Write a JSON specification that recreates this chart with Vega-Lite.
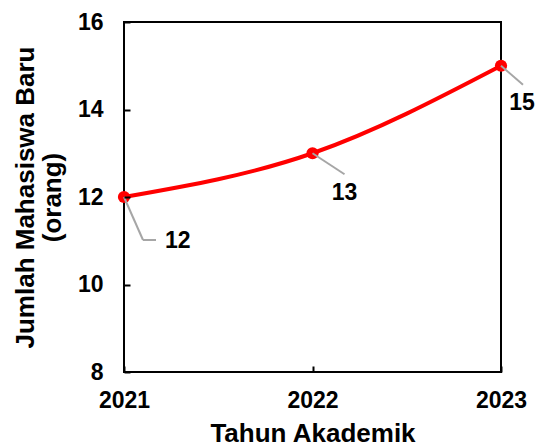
{
  "$schema": "https://vega.github.io/schema/vega-lite/v6.json",
  "width": 377,
  "height": 350,
  "autosize": {"type": "none"},
  "padding": {"left": 124, "top": 22, "right": 36, "bottom": 76},
  "background": "white",
  "config": {
    "font": "Liberation Sans",
    "view": {"stroke": "black", "strokeWidth": 2},
    "axis": {
      "grid": false,
      "domain": false,
      "labelFont": "Liberation Sans",
      "labelFontWeight": "bold",
      "labelFontSize": 23,
      "labelColor": "black",
      "titleFont": "Liberation Sans",
      "titleFontWeight": "bold",
      "titleFontSize": 26,
      "titleColor": "black"
    }
  },
  "data": {
    "values": [
      {"tahun": "2021", "jumlah": 12},
      {"tahun": "2022", "jumlah": 13},
      {"tahun": "2023", "jumlah": 15}
    ]
  },
  "encoding": {
    "x": {
      "field": "tahun",
      "type": "ordinal",
      "scale": {"type": "point", "padding": 0},
      "axis": {
        "labelAngle": 0,
        "zindex": 1,
        "ticks": true,
        "tickColor": "black",
        "tickWidth": 2,
        "tickSize": 6,
        "offset": -6,
        "labelPadding": 17,
        "title": "Tahun Akademik",
        "titlePadding": 8
      }
    },
    "y": {
      "field": "jumlah",
      "type": "quantitative",
      "scale": {"domain": [8, 16], "nice": false, "zero": false},
      "axis": {
        "tickCount": 4,
        "zindex": 1,
        "ticks": true,
        "tickColor": "black",
        "tickWidth": 2,
        "tickSize": 6,
        "offset": -6,
        "labelPadding": 21,
        "title": ["Jumlah Mahasiswa Baru", "(orang)"],
        "titleLineHeight": 27,
        "titlePadding": 12
      }
    }
  },
  "layer": [
    {
      "mark": {"type": "line", "interpolate": "monotone", "color": "#FF0000", "strokeWidth": 4}
    },
    {
      "mark": {"type": "point", "filled": true, "color": "#FF0000", "size": 150, "opacity": 1}
    },
    {
      "transform": [{"filter": "datum.tahun == '2021'"}],
      "layer": [
        {
          "mark": {"type": "rule", "color": "#A6A6A6", "strokeWidth": 2, "x2Offset": 19, "y2Offset": 43},
          "encoding": {"x2": {"field": "tahun"}, "y2": {"field": "jumlah"}}
        },
        {
          "mark": {"type": "rule", "color": "#A6A6A6", "strokeWidth": 2, "xOffset": 19, "yOffset": 43, "x2Offset": 32, "y2Offset": 43},
          "encoding": {"x2": {"field": "tahun"}, "y2": {"field": "jumlah"}}
        },
        {
          "mark": {"type": "text", "align": "left", "baseline": "middle", "dx": 41, "dy": 44, "fontSize": 23, "fontWeight": "bold", "color": "black"},
          "encoding": {"text": {"field": "jumlah", "type": "quantitative"}}
        }
      ]
    },
    {
      "transform": [{"filter": "datum.tahun == '2022'"}],
      "layer": [
        {
          "mark": {"type": "rule", "color": "#A6A6A6", "strokeWidth": 2, "x2Offset": 32, "y2Offset": 21},
          "encoding": {"x2": {"field": "tahun"}, "y2": {"field": "jumlah"}}
        },
        {
          "mark": {"type": "text", "align": "center", "baseline": "middle", "dx": 32, "dy": 40, "fontSize": 23, "fontWeight": "bold", "color": "black"},
          "encoding": {"text": {"field": "jumlah", "type": "quantitative"}}
        }
      ]
    },
    {
      "transform": [{"filter": "datum.tahun == '2023'"}],
      "layer": [
        {
          "mark": {"type": "rule", "color": "#A6A6A6", "strokeWidth": 2, "x2Offset": 22, "y2Offset": 19},
          "encoding": {"x2": {"field": "tahun"}, "y2": {"field": "jumlah"}}
        },
        {
          "mark": {"type": "text", "align": "center", "baseline": "middle", "dx": 21, "dy": 37, "fontSize": 23, "fontWeight": "bold", "color": "black"},
          "encoding": {"text": {"field": "jumlah", "type": "quantitative"}}
        }
      ]
    }
  ]
}
